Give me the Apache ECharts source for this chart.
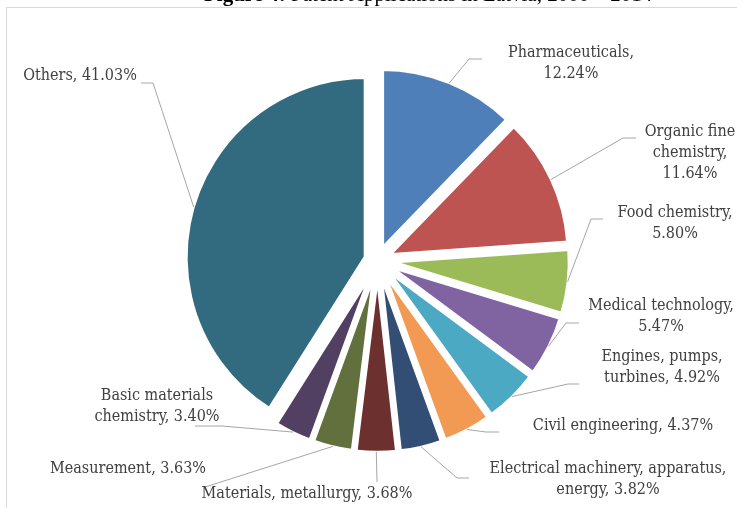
<!DOCTYPE html>
<html>
<head>
<meta charset="utf-8">
<script src="https://cdn.jsdelivr.net/npm/echarts@6/dist/echarts.min.js"></script>
<style>
  html, body { margin: 0; padding: 0; background: #ffffff; }
  #chart { width: 737px; height: 508px; }
</style>
</head>
<body>
<div id="chart"></div>
<script>
// Patent applications in Latvia by technology field, share of total (%)
const categories = [
  'Pharmaceuticals',
  'Organic fine chemistry',
  'Food chemistry',
  'Medical technology',
  'Engines, pumps, turbines',
  'Civil engineering',
  'Electrical machinery, apparatus, energy',
  'Materials, metallurgy',
  'Measurement',
  'Basic materials chemistry',
  'Others'
];
const shares = [12.24, 11.64, 5.80, 5.47, 4.92, 4.37, 3.82, 3.68, 3.63, 3.40, 41.03];
const titleBold = 'Figure 4:';
const titleRest = 'Patent Applications in Latvia, 2000 – 2014';

const sliceColors = [
  '#4f7fb9', '#bd5451', '#9bbb59', '#8064a2', '#4ba9c3', '#f29a53',
  '#334e74', '#6c302e', '#61703d', '#524063', '#326b7f'
];

// number of words after which each label wraps onto a new line
const labelBreaks = [[1], [2, 3], [2], [2], [2], [], [3], [], [], [2], []];

// label placement: text centre, and the elbow / end of each leader line
const labelSpots = [
  { t: [571, 63.5],  elbow: [469, 59],  end: [482, 59] },
  { t: [690, 153],   elbow: [623, 138], end: [636, 138] },
  { t: [675, 223.5], elbow: [591, 219], end: [603, 219] },
  { t: [661, 316.5], elbow: [566, 323], end: [579, 323] },
  { t: [662, 367.5], elbow: [568, 384], end: [579, 384] },
  { t: [623, 426],   elbow: [486, 432], end: [499, 432] },
  { t: [608, 479],   elbow: [457, 478], end: [469, 478] },
  { t: [307, 494],   elbow: [377, 482], end: [377, 482] },
  { t: [128, 469],   elbow: [205, 487], end: [205, 487] },
  { t: [157, 406.5], elbow: [222, 426], end: [195, 426] },
  { t: [80, 76],     elbow: [153, 83],  end: [141, 83] }
];

const pieCenter = [377.5, 260.4];
const pieRadius = 180;
const explode = 12.3;
const labelFont = "'DejaVu Serif Condensed', 'DejaVu Serif', serif";

function labelText(i) {
  const words = (categories[i] + ', ' + shares[i].toFixed(2) + '%').split(' ');
  const breaks = labelBreaks[i];
  let out = '';
  words.forEach((w, k) => {
    if (k > 0) out += breaks.indexOf(k) >= 0 ? '\n' : ' ';
    out += w;
  });
  return out;
}

const chart = echarts.init(document.getElementById('chart'), null, { renderer: 'canvas' });

const option = {
  animation: false,
  backgroundColor: '#ffffff',
  title: {
    text: '{b|' + titleBold + '} ' + titleRest,
    left: 204,
    top: -15,
    padding: 0,
    textStyle: {
      fontFamily: "'Liberation Serif', serif",
      fontSize: 21,
      fontWeight: 'normal',
      color: '#000000',
      rich: {
        b: { fontFamily: "'Liberation Serif', serif", fontSize: 21, fontWeight: 'bold', color: '#000000' }
      }
    }
  },
  graphic: [{
    type: 'rect',
    silent: true,
    shape: { x: 6.5, y: 7.5, width: 780, height: 560 },
    style: { fill: 'none', stroke: '#d9d9d9', lineWidth: 1 },
    z: -1
  }],
  series: [
    // exploded slices
    {
      type: 'pie',
      center: pieCenter,
      radius: [0, pieRadius],
      startAngle: 90,
      clockwise: true,
      selectedMode: 'multiple',
      selectedOffset: explode,
      silent: true,
      emphasis: { disabled: true },
      itemStyle: { borderColor: '#ffffff', borderWidth: 4 },
      label: { show: false },
      labelLine: { show: false },
      data: categories.map((name, i) => ({
        name: name,
        value: shares[i],
        selected: true,
        itemStyle: { color: sliceColors[i] }
      }))
    },
    // labels and leader lines, laid over the same slices
    {
      type: 'pie',
      center: pieCenter,
      radius: [0, pieRadius],
      startAngle: 90,
      clockwise: true,
      selectedMode: false,
      avoidLabelOverlap: false,
      silent: true,
      z: 3,
      emphasis: { disabled: true },
      itemStyle: { color: 'rgba(0,0,0,0)', borderWidth: 0 },
      label: {
        show: true,
        position: 'outside',
        formatter: (p) => labelText(p.dataIndex),
        fontFamily: labelFont,
        fontSize: 16,
        lineHeight: 21,
        color: '#404040',
        align: 'center'
      },
      labelLine: {
        show: true,
        length: 10,
        length2: 10,
        lineStyle: { color: '#a6a6a6', width: 1 }
      },
      labelLayout: function (params) {
        const i = params.dataIndex;
        const spot = labelSpots[i];
        const lay = chart.getModel().getSeriesByIndex(params.seriesIndex).getData().getItemLayout(i);
        const mid = (lay.startAngle + lay.endAngle) / 2;
        const reach = lay.r + explode - 1;
        const start = [lay.cx + Math.cos(mid) * reach, lay.cy + Math.sin(mid) * reach];
        return {
          x: spot.t[0],
          y: spot.t[1],
          align: 'center',
          verticalAlign: 'middle',
          labelLinePoints: [start, spot.elbow.slice(), spot.end.slice()]
        };
      },
      data: categories.map((name, i) => ({ name: name, value: shares[i] }))
    }
  ]
};

chart.setOption(option);
</script>
</body>
</html>
